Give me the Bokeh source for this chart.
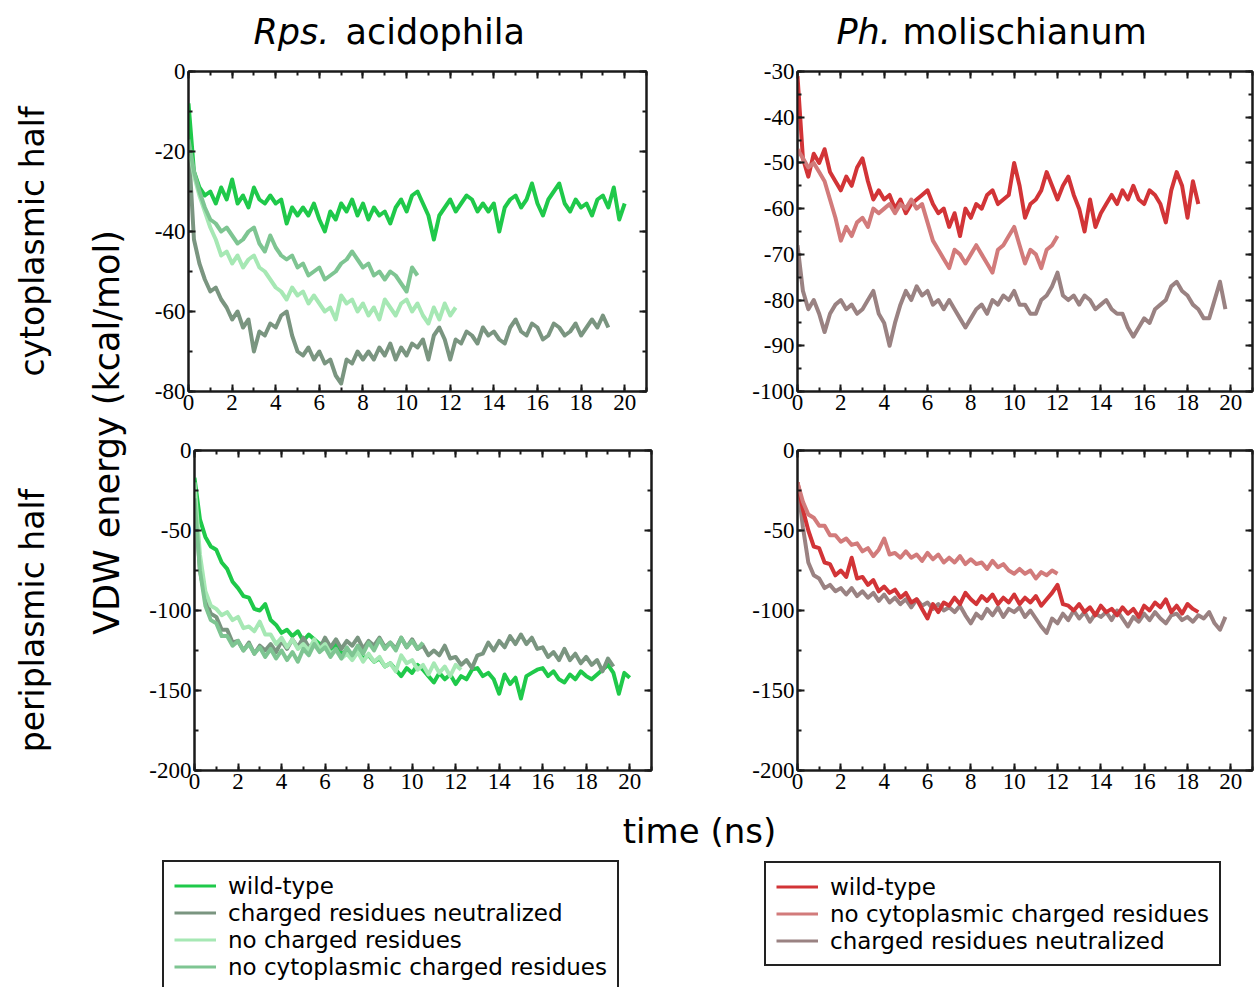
import numpy as np
from bokeh.plotting import figure
from bokeh.models import (Range1d, LinearAxis, SingleIntervalTicker, Label,
                          Legend, LegendItem, CustomJSTickFormatter)
from bokeh.layouts import row, column
from bokeh.embed import file_html
from bokeh.resources import INLINE

STEP = 0.25  # ns between samples

# ---------------- data (VDW energy, kcal/mol) ----------------
# Rps. acidophila, cytoplasmic half
TL_WT = [-8,-25,-29,-31,-30,-33,-29,-32,-27,-33,-31,-34,-29,-32,-33,-31,-33,-32,-38,-34,
         -36,-34,-36,-33,-37,-40,-35,-37,-33,-35,-32,-36,-33,-37,-34,-36,-35,-38,-34,-32,
         -35,-31,-30,-33,-36,-42,-36,-34,-32,-35,-33,-31,-32,-35,-33,-35,-33,-40,-34,-32,
         -31,-34,-32,-28,-33,-36,-32,-30,-28,-33,-35,-32,-34,-33,-36,-32,-31,-34,-29,-37,-33]
TL_NEU = [-18,-42,-48,-52,-55,-54,-57,-59,-62,-60,-64,-62,-70,-65,-66,-63,-64,-61,-60,-66,
          -70,-71,-69,-72,-70,-73,-72,-76,-78,-72,-73,-70,-72,-70,-72,-69,-71,-68,-72,-69,
          -71,-68,-69,-67,-72,-66,-64,-67,-72,-67,-68,-65,-66,-68,-64,-66,-65,-67,-68,-64,
          -62,-65,-66,-63,-64,-67,-66,-63,-64,-66,-65,-63,-66,-64,-62,-64,-61,-64]
TL_NOCH = [-18,-26,-31,-35,-39,-42,-46,-45,-48,-46,-49,-47,-46,-49,-50,-52,-54,-55,-57,-54,
           -56,-55,-58,-56,-58,-60,-59,-62,-56,-58,-57,-60,-58,-61,-59,-62,-57,-59,-61,-58,
           -57,-60,-58,-61,-63,-59,-62,-58,-61,-59]
TL_NOCYT = [-17,-25,-30,-34,-37,-38,-40,-39,-41,-43,-42,-40,-39,-43,-45,-41,-44,-46,-47,-46,
            -49,-48,-51,-50,-49,-52,-51,-50,-48,-47,-45,-47,-49,-48,-51,-50,-52,-50,-51,-53,
            -55,-49,-51]
# Ph. molischianum, cytoplasmic half
TR_WT = [-31,-49,-53,-48,-50,-47,-52,-54,-56,-53,-55,-51,-49,-54,-58,-56,-58,-57,-60,-58,
         -61,-59,-58,-57,-56,-59,-61,-60,-64,-61,-66,-60,-62,-59,-60,-57,-56,-59,-58,-57,
         -50,-55,-62,-59,-58,-56,-52,-55,-58,-55,-53,-57,-60,-65,-58,-64,-61,-59,-57,-59,
         -56,-58,-55,-58,-59,-56,-57,-59,-63,-56,-52,-55,-62,-54,-59]
TR_NOCYT = [-47,-49,-51,-50,-52,-54,-58,-62,-67,-64,-66,-63,-62,-64,-60,-61,-60,-59,-61,-59,
            -60,-58,-60,-59,-63,-67,-69,-71,-73,-69,-70,-72,-70,-68,-70,-72,-74,-69,-68,-66,
            -64,-68,-72,-69,-70,-73,-69,-68,-66]
TR_NEU = [-68,-78,-82,-80,-83,-87,-83,-81,-80,-82,-81,-83,-82,-80,-78,-83,-85,-90,-85,-81,
          -78,-80,-77,-79,-78,-81,-80,-82,-80,-82,-84,-86,-84,-82,-81,-83,-80,-81,-79,-80,
          -78,-81,-81,-83,-83,-80,-79,-77,-74,-79,-80,-79,-81,-79,-80,-82,-81,-80,-82,-83,
          -83,-86,-88,-86,-84,-85,-82,-81,-80,-77,-76,-78,-79,-81,-82,-84,-84,-80,-76,-82]
# Rps. acidophila, periplasmic half
BL_WT = [-17,-43,-54,-60,-62,-70,-74,-82,-86,-91,-92,-99,-100,-96,-106,-109,-114,-112,-116,-113,
         -119,-115,-118,-121,-120,-124,-121,-127,-125,-129,-126,-130,-128,-132,-130,-135,-133,-137,-141,-136,
         -139,-134,-137,-141,-145,-139,-143,-140,-146,-141,-143,-137,-136,-141,-139,-143,-152,-140,-146,-142,
         -155,-141,-139,-137,-136,-141,-138,-143,-145,-140,-143,-138,-141,-143,-140,-137,-134,-139,-152,-139,-142]
BL_NEU = [-25,-75,-93,-102,-104,-112,-112,-120,-119,-125,-120,-127,-122,-125,-121,-126,-119,-124,-118,-123,
          -117,-123,-120,-124,-117,-123,-118,-124,-119,-122,-117,-124,-119,-122,-117,-123,-120,-124,-117,-123,
          -118,-124,-122,-128,-125,-128,-122,-130,-129,-134,-131,-136,-128,-127,-120,-125,-119,-123,-116,-121,
          -115,-121,-117,-124,-123,-129,-126,-131,-124,-131,-127,-133,-129,-134,-131,-138,-130,-135]
BL_NOCH = [-20,-65,-88,-97,-99,-103,-101,-106,-104,-111,-110,-113,-107,-115,-115,-121,-117,-123,-118,-124,
           -121,-125,-118,-124,-121,-127,-125,-130,-127,-131,-126,-132,-127,-132,-129,-135,-133,-138,-128,-133,
           -131,-137,-134,-140,-133,-139,-135,-141,-134,-137]
BL_NOCYT = [-30,-75,-97,-106,-108,-116,-116,-122,-119,-125,-121,-127,-123,-129,-124,-130,-125,-131,-126,-132,
            -124,-128,-121,-126,-123,-129,-124,-130,-123,-128,-122,-127,-120,-125,-118,-124,-120,-125,-117,-123,
            -119,-124,-120]
# Ph. molischianum, periplasmic half
BR_WT = [-20,-37,-50,-60,-61,-70,-71,-78,-75,-79,-67,-80,-79,-84,-81,-88,-85,-89,-87,-92,
         -89,-95,-93,-99,-105,-96,-101,-95,-97,-92,-96,-89,-93,-96,-91,-94,-90,-96,-92,-95,
         -90,-96,-92,-95,-91,-97,-93,-89,-84,-96,-97,-100,-96,-101,-98,-103,-97,-101,-99,-103,
         -98,-102,-99,-104,-97,-100,-95,-98,-93,-101,-97,-102,-96,-99,-101]
BR_NOCYT = [-20,-32,-40,-42,-47,-47,-53,-53,-57,-55,-59,-58,-63,-61,-66,-62,-55,-65,-64,-67,
            -63,-67,-65,-69,-64,-68,-65,-70,-67,-70,-66,-71,-68,-71,-70,-74,-69,-73,-71,-75,
            -77,-74,-77,-75,-80,-76,-78,-75,-77]
BR_NEU = [-20,-48,-70,-78,-80,-86,-84,-88,-86,-90,-86,-91,-88,-92,-89,-94,-90,-95,-92,-96,
          -93,-98,-93,-97,-95,-99,-96,-100,-98,-101,-97,-103,-108,-102,-105,-99,-103,-98,-104,-99,
          -101,-98,-104,-100,-105,-110,-114,-105,-108,-102,-106,-100,-105,-101,-107,-102,-104,-101,-106,-100,
          -105,-110,-104,-107,-102,-106,-101,-105,-108,-103,-102,-106,-104,-107,-103,-105,-101,-108,-112,-104]

LEFT_LABELS = ["wild-type", "charged residues neutralized", "no charged residues",
               "no cytoplasmic charged residues"]
RIGHT_LABELS = ["wild-type", "no cytoplasmic charged residues", "charged residues neutralized"]

G_WT, G_NEU, G_NOCH, G_NOCYT = "#1fc94a", "#7a9580", "#a6e8b4", "#7ec592"
R_WT, R_NOCYT, R_NEU = "#d23437", "#d27b7b", "#9a8282"

SANS = "DejaVu Sans"
SERIF = "Liberation Serif"
DARK = "#1a1a1a"
LW = 4


def times(vals):
    return np.arange(len(vals)) * STEP


def style_axis(ax, show):
    ax.axis_line_width = 2
    ax.axis_line_color = DARK
    ax.major_tick_in = 7
    ax.major_tick_out = 0
    ax.minor_tick_in = 4
    ax.minor_tick_out = 0
    ax.major_tick_line_width = 2
    ax.minor_tick_line_width = 2
    ax.major_tick_line_color = DARK
    ax.minor_tick_line_color = DARK
    if show:
        ax.formatter = CustomJSTickFormatter(code="return tick.toFixed(0);")
        ax.major_label_text_font = SERIF
        ax.major_label_text_font_size = "23px"
        ax.major_label_text_color = "black"
        ax.major_label_standoff = 3
    else:
        ax.formatter = CustomJSTickFormatter(code="return '';")
        ax.major_label_standoff = 0


def no_frame_fig(w, h):
    f = figure(width=w, height=h, x_range=Range1d(0, w), y_range=Range1d(h, 0),
               output_backend="svg", toolbar_location=None, tools="",
               x_axis_location=None, y_axis_location=None, min_border=0,
               outline_line_color=None)
    f.xgrid.visible = False
    f.ygrid.visible = False
    return f


def panel(width, height, bl, br, bt, bb, yr, yint, series):
    p = figure(width=width, height=height, x_range=Range1d(0, 21), y_range=Range1d(*yr),
               output_backend="svg", toolbar_location=None, tools="",
               x_axis_location=None, y_axis_location=None,
               min_border_left=bl, min_border_right=br, min_border_top=bt, min_border_bottom=bb)
    p.xgrid.visible = False
    p.ygrid.visible = False
    p.outline_line_color = DARK
    p.outline_line_width = 2
    for loc, show in (("below", True), ("above", False)):
        ax = LinearAxis(ticker=SingleIntervalTicker(interval=2, num_minor_ticks=2))
        style_axis(ax, show)
        p.add_layout(ax, loc)
    for loc, show in (("left", True), ("right", False)):
        ax = LinearAxis(ticker=SingleIntervalTicker(interval=yint, num_minor_ticks=2))
        style_axis(ax, show)
        p.add_layout(ax, loc)
    for vals, col in series:
        p.line(times(vals), vals, line_width=LW, color=col, line_join="round")
    return p


# geometry (page pixels)
TITLE_H = 60
LEFT_W = 140
COL1_W = 580
COL2_W = 536
ROW1_H = 360
ROW2_H = 380
BOT_H = 987 - TITLE_H - ROW1_H - ROW2_H

tl = panel(COL1_W, ROW1_H, 48, COL1_W - 48 - 458, 11, ROW1_H - 11 - 320, (-80, 0), 20,
           [(TL_WT, G_WT), (TL_NEU, G_NEU), (TL_NOCH, G_NOCH), (TL_NOCYT, G_NOCYT)])
tr = panel(COL2_W, ROW1_H, 77, COL2_W - 77 - 455, 11, ROW1_H - 11 - 320, (-100, -30), 10,
           [(TR_NEU, R_NEU), (TR_WT, R_WT), (TR_NOCYT, R_NOCYT)])
bl = panel(COL1_W, ROW2_H, 54, COL1_W - 54 - 457, 30, ROW2_H - 30 - 320, (-200, 0), 50,
           [(BL_WT, G_WT), (BL_NEU, G_NEU), (BL_NOCH, G_NOCH), (BL_NOCYT, G_NOCYT)])
br = panel(COL2_W, ROW2_H, 77, COL2_W - 77 - 455, 30, ROW2_H - 30 - 320, (-200, 0), 50,
           [(BR_NEU, R_NEU), (BR_WT, R_WT), (BR_NOCYT, R_NOCYT)])

# title strip
top = no_frame_fig(1256, TITLE_H)
for x, txt, style in ((253, "Rps.", "italic"), (345, "acidophila", "normal"),
                      (836, "Ph.", "italic"), (902, "molischianum", "normal")):
    top.add_layout(Label(x=x, y=31, text=txt, text_font=SANS, text_font_style=style,
                         text_font_size="35px", text_color="black",
                         text_align="left", text_baseline="middle"))

# left label column
lab = no_frame_fig(LEFT_W, ROW1_H + ROW2_H)
for txt, x, y, fs in (("cytoplasmic half", 32, 241 - TITLE_H, "33px"),
                      ("periplasmic half", 32, 620 - TITLE_H, "33px"),
                      ("VDW energy (kcal/mol)", 106, 432 - TITLE_H, "35px")):
    lab.add_layout(Label(x=x, y=y, text=txt, angle=np.pi / 2, text_font=SANS, text_font_size=fs,
                         text_color="black", text_align="center", text_baseline="middle"))

# bottom strip: axis title + legends
bot = no_frame_fig(1256, BOT_H)
bot.add_layout(Label(x=699, y=30, text="time (ns)", text_font=SANS, text_font_size="34px",
                     text_color="black", text_align="center", text_baseline="middle"))


def legend(labels, colors, loc):
    items = []
    for lbl, col in zip(labels, colors):
        r = bot.line([-50, -40], [-50, -50], line_width=3, color=col)
        items.append(LegendItem(label=lbl, renderers=[r]))
    lg = Legend(items=items, location=loc, orientation="vertical",
                label_text_font=SANS, label_text_font_size="23px", label_text_color="black",
                glyph_width=42, glyph_height=27, label_height=27, label_standoff=12,
                spacing=0, padding=10, margin=0,
                border_line_color="#222222", border_line_width=2, border_line_alpha=1.0,
                background_fill_color="white", background_fill_alpha=1.0)
    bot.add_layout(lg)


legend(LEFT_LABELS, [G_WT, G_NEU, G_NOCH, G_NOCYT], (162, -5))
legend(RIGHT_LABELS, [R_WT, R_NOCYT, R_NEU], (764, 21))

grid = column(row(tl, tr, spacing=0), row(bl, br, spacing=0), spacing=0)
layout = column(top, row(lab, grid, spacing=0), bot, spacing=0)

open("out.html", "w").write(file_html(layout, INLINE))
